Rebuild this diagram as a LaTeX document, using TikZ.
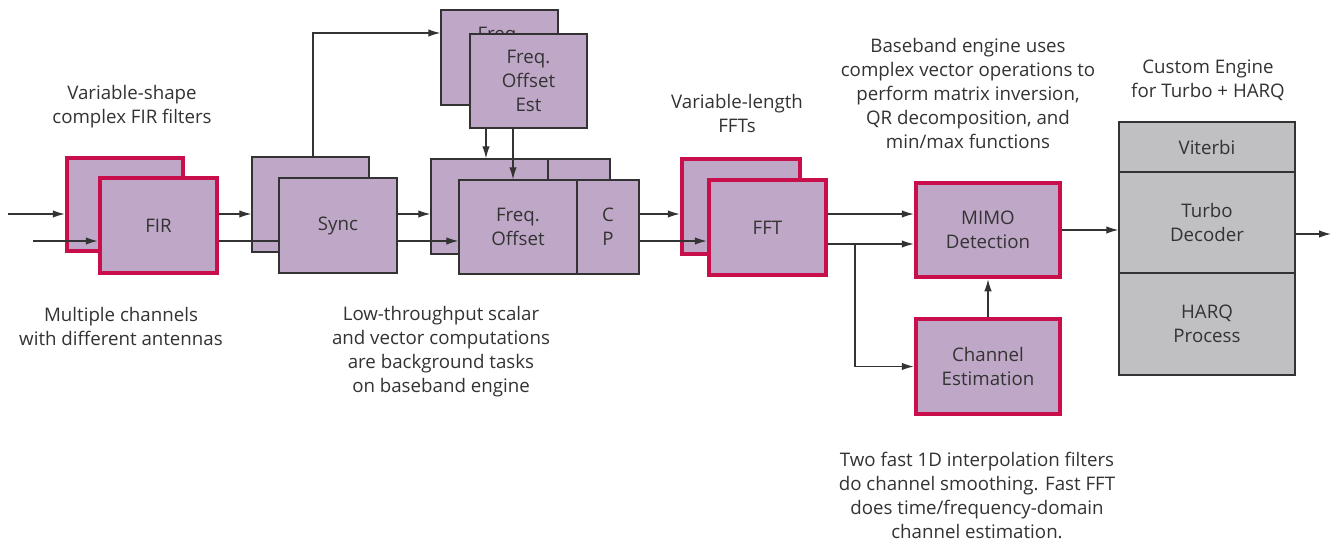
\documentclass[tikz,border=0pt]{standalone}
\usepackage{fontspec}
\setmainfont{Open Sans}
\usetikzlibrary{arrows.meta,calc}
\definecolor{boxfill}{HTML}{BFA8C7}
\definecolor{redline}{HTML}{C80F4B}
\definecolor{grayfill}{HTML}{C0C0C3}
\definecolor{txt}{HTML}{333333}
\definecolor{edge}{HTML}{333333}
\begin{document}
\begin{tikzpicture}[x=1pt,y=-1pt,
  every node/.style={font=\fontsize{18.7}{24}\selectfont, text=txt, align=center, inner sep=0pt},
  redbox/.style={draw=redline, line width=4.5pt, fill=boxfill},
  thinbox/.style={draw=edge, line width=1.4pt, fill=boxfill},
  graybox/.style={draw=edge, line width=1.4pt, fill=grayfill},
  arr/.style={draw=edge, line width=1.3pt, -{Latex[length=12pt,width=7.5pt]}},
  ln/.style={draw=edge, line width=1.3pt}]
\useasboundingbox (0,0) rectangle (1331,541);
\fill[white] (0,0) rectangle (1331,541);
% FIR
\node[redbox, minimum width=116pt, minimum height=93pt] (firb) at (125,204.5) {};
\node[redbox, minimum width=117pt, minimum height=95pt] (firf) at (158.5,225.5) {FIR};
% Sync
\node[thinbox, minimum width=117pt, minimum height=95pt] (syncb) at (310.5,204.5) {};
\node[thinbox, minimum width=118pt, minimum height=95pt] (syncf) at (338,225.5) {Sync};
% Freq offset est
\node[thinbox, minimum width=117pt, minimum height=95pt] (foeb) at (499.5,57.5) {};
\node[anchor=north] (foebt) at (499.5,27) {Freq.};
\node[thinbox, minimum width=117pt, minimum height=94pt] (foef) at (528.5,81) {Freq.\\Offset\\Est};
% Freq offset + CP
\node[thinbox, minimum width=117pt, minimum height=95pt] (fob) at (489.5,206.5) {};
\node[thinbox, minimum width=62pt, minimum height=95pt] (cpb) at (579,206.5) {};
\node[thinbox, minimum width=118pt, minimum height=94pt] (fof) at (518,227) {Freq.\\Offset};
\node[thinbox, minimum width=62pt, minimum height=94pt] (cpf) at (608,227) {C\\P};
% FFT
\node[redbox, minimum width=118pt, minimum height=95pt] (fftb) at (741,206.5) {};
\node[redbox, minimum width=117pt, minimum height=95pt] (fftf) at (767.5,227.5) {FFT};
% MIMO, channel
\node[redbox, minimum width=144pt, minimum height=94pt] (mimo) at (988,230) {MIMO\\Detection};
\node[redbox, minimum width=144pt, minimum height=95pt] (chan) at (988,366.5) {Channel\\Estimation};
% custom engine
\node[graybox, minimum width=176pt, minimum height=50pt] (vit) at (1207,147) {Viterbi};
\node[graybox, minimum width=176pt, minimum height=101pt] (turbo) at (1207,222.5) {Turbo\\Decoder};
\node[graybox, minimum width=176pt, minimum height=102pt] (harq) at (1207,324) {HARQ\\Process};
% coordinates
\coordinate (in1) at (8,214);
\coordinate (in2) at (33,241);
\coordinate (st) at (313,33);
\coordinate (d1) at (486,0);
\coordinate (d2) at (513,0);
\coordinate (br) at (855,244);
\coordinate (out) at (1331,234);
% connectors
\draw[arr] (in1) -- (in1 -| firb.west);
\draw[arr] (in2) -- (in2 -| firf.west);
\draw[arr] (in1 -| firf.east) -- (in1 -| syncb.west);
\draw[ln] (in2 -| firf.east) -- (in2 -| syncf.west);
\draw[arr] (in1 -| syncf.east) -- (in1 -| fob.west);
\draw[arr] (in2 -| syncf.east) -- (in2 -| fof.west);
\draw[arr] (st |- syncb.north) -- (st) -- (st -| foeb.west);
\draw[arr] (d1 |- foef.south) -- (d1 |- fob.north);
\draw[arr] (d2 |- foef.south) -- (d2 |- fof.north);
\draw[arr] (in1 -| cpf.east) -- (in1 -| fftb.west);
\draw[arr] (in2 -| cpf.east) -- (in2 -| fftf.west);
\draw[arr] (in1 -| fftf.east) -- (in1 -| mimo.west);
\draw[arr] (fftf.east |- br) -- (mimo.west |- br);
\draw[arr] (br) |- (chan.west);
\draw[arr] (chan.north) -- (mimo.south);
\draw[arr] (mimo.east) -- (mimo.east -| turbo.west);
\draw[arr] (out -| turbo.east) -- (out);
% annotations
\node (t1) at (132,107) {Variable-shape\\complex FIR filters};
\node (t2) at (121,326) {Multiple channels\\with different antennas};
\node (t3) at (441,352) {Low-throughput scalar\\and vector computations\\are background tasks\\on baseband engine};
\node (t4) at (737,113.5) {Variable-length\\FFTs};
\node (t5) at (968,93) {Baseband engine uses\\complex vector operations to\\perform matrix inversion,\\QR decomposition, and\\min/max functions};
\node (t6) at (1208,80) {Custom Engine\\for Turbo + HARQ};
\node (t7) at (977,495) {Two fast 1D interpolation filters\\do channel smoothing. Fast FFT\\does time/frequency-domain\\channel estimation.};
\end{tikzpicture}
\end{document}
